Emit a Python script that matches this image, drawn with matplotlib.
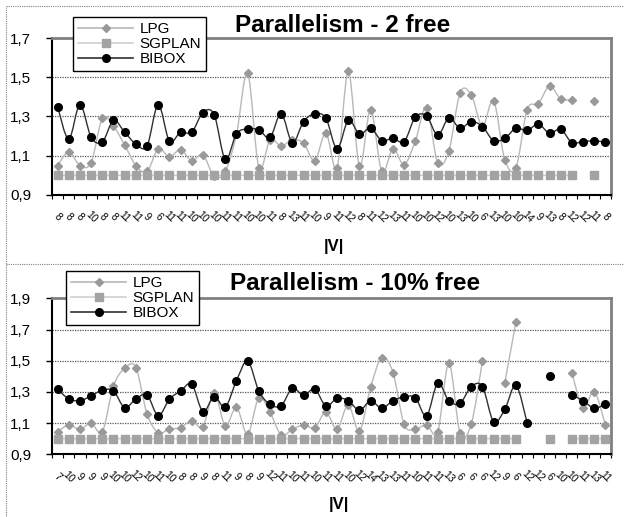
import matplotlib
matplotlib.use('Agg')
import matplotlib.pyplot as plt
import numpy as np
from matplotlib.path import Path
from matplotlib.patches import PathPatch
from matplotlib.lines import Line2D
from matplotlib.ticker import FuncFormatter

plt.rcParams['font.family'] = ['Liberation Sans', 'DejaVu Sans']

nan = np.nan

# Parallelism - 2 free
top_labels = [8, 8, 8, 10, 8, 8, 11, 11, 9, 6, 11, 11, 10, 10, 10, 11, 11, 10, 10, 11,
              8, 13, 11, 10, 9, 11, 12, 8, 11, 12, 13, 11, 10, 10, 12, 10, 13, 10, 6, 13,
              10, 10, 14, 9, 13, 8, 12, 12, 11, 8]
top_lpg = [1.05, 1.12, 1.05, 1.065, 1.29, 1.25, 1.155, 1.05, 1.02, 1.135,
           1.095, 1.13, 1.075, 1.105, 0.995, 1.02, 1.21, 1.52, 1.04, 1.18,
           1.15, 1.18, 1.165, 1.075, 1.215, 1.04, 1.53, 1.05, 1.335, 1.02,
           1.135, 1.055, 1.175, 1.345, 1.065, 1.125, 1.42, 1.41, 1.25, 1.38,
           1.08, 1.04, 1.335, 1.365, 1.455, 1.39, 1.385, nan, 1.38, nan]
top_sgplan = [1.0, 1.0, 1.0, 1.0, 1.0, 1.0, 1.0, 1.0, 1.0, 1.0,
              1.0, 1.0, 1.0, 1.0, 1.0, 1.0, 1.0, 1.0, 1.0, 1.0,
              1.0, 1.0, 1.0, 1.0, 1.0, 1.0, 1.0, 1.0, 1.0, 1.0,
              1.0, 1.0, 1.0, 1.0, 1.0, 1.0, 1.0, 1.0, 1.0, 1.0,
              1.0, 1.0, 1.0, 1.0, 1.0, 1.0, 1.0, nan, 1.0, nan]
top_bibox = [1.35, 1.185, 1.36, 1.195, 1.17, 1.28, 1.22, 1.16, 1.15, 1.36,
             1.175, 1.22, 1.22, 1.32, 1.31, 1.082, 1.212, 1.237, 1.232, 1.193,
             1.314, 1.167, 1.274, 1.314, 1.291, 1.135, 1.28, 1.211, 1.24, 1.177,
             1.19, 1.172, 1.297, 1.303, 1.205, 1.293, 1.24, 1.274, 1.249, 1.176,
             1.189, 1.24, 1.229, 1.261, 1.215, 1.235, 1.167, 1.172, 1.176, 1.169]

# Parallelism - 10% free
bot_labels = [7, 10, 9, 9, 9, 10, 10, 12, 10, 11, 10, 8, 8, 9, 8, 11, 9, 8, 9, 12,
              11, 10, 11, 10, 11, 11, 10, 12, 14, 13, 13, 11, 10, 11, 11, 13, 6, 6, 6, 12,
              9, 6, 12, 12, 6, 10, 10, 11, 13, 11]
bot_lpg = [1.045, 1.088, 1.06, 1.099, 1.045, 1.338, 1.451, 1.456, 1.159, 1.039,
           1.062, 1.071, 1.116, 1.077, 1.295, 1.084, 1.201, 1.028, 1.263, 1.169,
           1.024, 1.06, 1.088, 1.071, 1.169, 1.062, 1.216, 1.05, 1.33, 1.52,
           1.424, 1.092, 1.062, 1.088, 1.045, 1.483, 1.035, 1.094, 1.498, nan,
           1.358, 1.75, nan, nan, nan, nan, 1.424, 1.195, 1.302, 1.088]
bot_sgplan = [1.0, 1.0, 1.0, 1.0, 1.0, 1.0, 1.0, 1.0, 1.0, 1.0,
              1.0, 1.0, 1.0, 1.0, 1.0, 1.0, 1.0, 1.0, 1.0, 1.0,
              1.0, 1.0, 1.0, 1.0, 1.0, 1.0, 1.0, 1.0, 1.0, 1.0,
              1.0, 1.0, 1.0, 1.0, 1.0, 1.0, 1.0, 1.0, 1.0, 1.0,
              1.0, 1.0, nan, nan, 1.0, nan, 1.0, 1.0, 1.0, 1.0]
bot_bibox = [1.317, 1.255, 1.244, 1.274, 1.312, 1.306, 1.199, 1.255, 1.28, 1.148,
             1.253, 1.306, 1.349, 1.174, 1.27, 1.203, 1.372, 1.498, 1.306, 1.22,
             1.212, 1.323, 1.278, 1.318, 1.21, 1.259, 1.244, 1.182, 1.242, 1.195,
             1.244, 1.268, 1.263, 1.146, 1.355, 1.242, 1.227, 1.334, 1.334, 1.109,
             1.188, 1.342, 1.101, nan, 1.4, nan, 1.28, 1.244, 1.195, 1.223]

W, H = 624, 517


def smooth_path(x, y):
    # Excel-like smoothed line, split at gaps
    x = np.asarray(x, float)
    y = np.asarray(y, float)
    ok = np.isfinite(y)
    verts, codes = [], []
    i = 0
    while i < len(y):
        if not ok[i]:
            i += 1
            continue
        j = i
        while j + 1 < len(y) and ok[j + 1]:
            j += 1
        pts = np.column_stack([x[i:j + 1], y[i:j + 1]])
        n = len(pts)
        if n > 1:
            verts.append(pts[0])
            codes.append(Path.MOVETO)
            for k in range(n - 1):
                p0 = pts[max(k - 1, 0)]
                p1 = pts[k]
                p2 = pts[k + 1]
                p3 = pts[min(k + 2, n - 1)]
                verts += [p1 + (p2 - p0) / 6, p2 - (p3 - p1) / 6, p2]
                codes += [Path.CURVE4] * 3
        i = j + 1
    if not verts:
        return None
    return Path(verts, codes)


styles = {
    'LPG': dict(line='#b8b8b8', marker='D', mc='#999999', ms=4.0, lw=1.0),
    'SGPLAN': dict(line='#cfcfcf', marker='s', mc='#a3a3a3', ms=5.2, lw=1.0),
    'BIBOX': dict(line='#303030', marker='o', mc='#000000', ms=5.5, lw=1.0),
}


def draw_chart(ax, labels, series, ymax, title, title_xy, legend_xy, vlabel_xy):
    x = np.arange(len(labels))
    z = 2
    for name, vals in series:
        st = styles[name]
        p = smooth_path(x, vals)
        if p is not None:
            ax.add_patch(PathPatch(p, fill=False, edgecolor=st['line'],
                                   lw=st['lw'], zorder=z))
        ax.plot(x, vals, linestyle='none', marker=st['marker'], ms=st['ms'],
                mfc=st['mc'], mec=st['mc'], zorder=z + 0.1, clip_on=False)
        z += 0.2

    ax.set_xlim(-0.5, len(labels) - 0.5)
    ax.set_ylim(0.9, ymax)
    ax.set_yticks(np.arange(0.9, ymax + 0.01, 0.2))
    ax.yaxis.set_major_formatter(FuncFormatter(lambda v, p: f'{v:.1f}'.replace('.', ',')))
    ax.tick_params(axis='y', length=4, width=1, pad=11, labelsize=11)

    ax.set_xticks(x)
    ax.set_xticklabels([str(v) for v in labels], fontsize=7.5)
    for t in ax.get_xticklabels():
        t.set_rotation(-45)
        t.set_va('center')
        t.set_ha('center')
    ax.set_xticks(np.arange(-0.5, len(labels), 1), minor=True)
    ax.tick_params(axis='x', which='major', length=0, pad=16)
    ax.tick_params(axis='x', which='minor', length=3, width=0.8)

    ax.yaxis.grid(True, linestyle=(0, (1, 1)), color='#555555', lw=0.9)
    ax.set_axisbelow(True)
    for s in ['left', 'bottom']:
        ax.spines[s].set_color('black')
        ax.spines[s].set_linewidth(1.5)
    for s in ['top', 'right']:
        ax.spines[s].set_color('#808080')
        ax.spines[s].set_linewidth(2)

    fig.text(title_xy[0] / W, 1 - title_xy[1] / H, title, ha='center', va='baseline',
             fontsize=17.5, fontweight='bold')
    fig.text(vlabel_xy[0] / W, 1 - vlabel_xy[1] / H, '|V|', ha='center', va='center',
             fontsize=12, fontweight='bold')

    handles = []
    for name, _ in series:
        st = styles[name]
        handles.append(Line2D([], [], color=st['line'], lw=1.2, marker=st['marker'],
                              ms=st['ms'], mfc=st['mc'], mec=st['mc'], label=name))
    leg = ax.legend(handles=handles, loc='upper left',
                    bbox_to_anchor=(legend_xy[0] / W, 1 - legend_xy[1] / H),
                    bbox_transform=fig.transFigure, borderaxespad=0, fontsize=11,
                    handlelength=3.6, handletextpad=0.4, labelspacing=0.05,
                    borderpad=0.35, fancybox=False, framealpha=1, edgecolor='black')
    leg.get_frame().set_linewidth(1.0)


fig = plt.figure(figsize=(W / 100, H / 100), dpi=100)

ax1 = fig.add_axes([52 / W, 1 - 195 / H, (611 - 52) / W, (195 - 38) / H])
draw_chart(ax1, top_labels,
           [('LPG', top_lpg), ('SGPLAN', top_sgplan), ('BIBOX', top_bibox)],
           1.7, 'Parallelism - 2 free', (343, 32), (73, 17), (334, 247))

ax2 = fig.add_axes([52 / W, 1 - 454.3 / H, (611 - 52) / W, (454.3 - 298.3) / H])
draw_chart(ax2, bot_labels,
           [('LPG', bot_lpg), ('SGPLAN', bot_sgplan), ('BIBOX', bot_bibox)],
           1.9, 'Parallelism - 10% free', (355, 290), (66, 271), (339, 504))

# dotted chart-area borders
dot = dict(color='#808080', lw=0.8, linestyle=(0, (1, 1)), transform=fig.transFigure)
fig.add_artist(Line2D([6 / W, 6 / W], [0, 1 - 6 / H], **dot))
fig.add_artist(Line2D([6 / W, 1], [1 - 6 / H, 1 - 6 / H], **dot))
fig.add_artist(Line2D([6 / W, 1], [1 - 264 / H, 1 - 264 / H], **dot))

fig.savefig('out.png', dpi=100)
